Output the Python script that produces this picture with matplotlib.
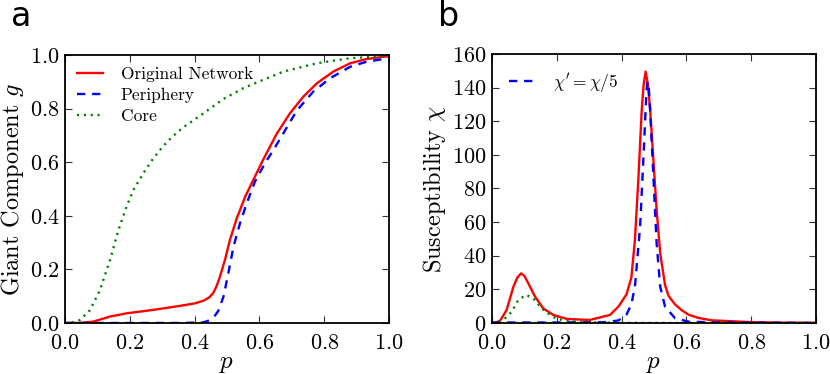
import numpy as np
import matplotlib
matplotlib.use('Agg')
import matplotlib.pyplot as plt

plt.rcParams['font.family'] = 'cmr10'
plt.rcParams['mathtext.fontset'] = 'cm'
plt.rcParams['axes.formatter.use_mathtext'] = True
plt.rcParams['axes.unicode_minus'] = False

# panel a: giant component g vs p
p_orig = [0.0, 0.046, 0.087, 0.139, 0.19, 0.273, 0.345, 0.4, 0.427, 0.445, 0.458, 0.468,
          0.478, 0.494, 0.509, 0.53, 0.556, 0.586, 0.612, 0.653, 0.694, 0.736, 0.777,
          0.828, 0.88, 0.931, 1.0]
g_orig = [0.0, 0.0, 0.005, 0.024, 0.036, 0.049, 0.062, 0.073, 0.083, 0.095, 0.113, 0.138,
          0.172, 0.237, 0.31, 0.39, 0.471, 0.546, 0.61, 0.705, 0.782, 0.845, 0.894,
          0.938, 0.969, 0.985, 0.996]
p_peri = [0.0, 0.2, 0.355, 0.425, 0.44, 0.453, 0.463, 0.473, 0.489, 0.504, 0.52, 0.54,
          0.561, 0.586, 0.617, 0.643, 0.674, 0.715, 0.766, 0.818, 0.88, 0.931, 1.0]
g_peri = [0.0, 0.0, 0.0, 0.002, 0.007, 0.017, 0.028, 0.045, 0.098, 0.185, 0.285, 0.372,
          0.447, 0.527, 0.596, 0.645, 0.708, 0.792, 0.863, 0.913, 0.956, 0.975, 0.988]
p_core = [0.0, 0.015, 0.046, 0.077, 0.108, 0.139, 0.165, 0.19, 0.211, 0.242, 0.273,
          0.303, 0.334, 0.365, 0.427, 0.489, 0.55, 0.597, 0.674, 0.777, 0.88, 1.0]
g_core = [0.0, 0.0, 0.011, 0.048, 0.123, 0.235, 0.347, 0.434, 0.496, 0.559, 0.615,
          0.66, 0.698, 0.73, 0.782, 0.836, 0.876, 0.9, 0.938, 0.969, 0.988, 0.996]

# panel b: susceptibility chi vs p
p_chi = [0.0, 0.012, 0.025, 0.045, 0.066, 0.078, 0.0895, 0.1, 0.112, 0.133, 0.158, 0.189,
         0.231, 0.302, 0.364, 0.39, 0.415, 0.43, 0.441, 0.452, 0.462, 0.468, 0.474,
         0.481, 0.488, 0.498, 0.508, 0.519, 0.534, 0.545, 0.565, 0.586, 0.606, 0.637,
         0.678, 0.8, 0.9, 1.0]
chi_orig = [0.0, 0.3, 1.4, 7.7, 21.6, 27.0, 29.5, 28.0, 23.6, 15.6, 8.7, 4.8,
            2.4, 1.8, 4.8, 9.7, 17.0, 27.0, 49.4, 87.0, 126.7, 142.0, 149.5,
            142.0, 126.7, 97.0, 67.2, 41.5, 22.5, 16.0, 11.0, 7.5, 5.0, 3.0,
            1.6, 0.5, 0.2, 0.1]
p_chip = [0.0, 0.2, 0.35, 0.39, 0.415, 0.43, 0.441, 0.457, 0.467, 0.474, 0.477, 0.48,
          0.484, 0.488, 0.498, 0.508, 0.519, 0.534, 0.565, 0.606, 0.7, 1.0]
chi_peri = [0.3, 0.3, 0.5, 1.5, 5.0, 11.0, 21.6, 57.3, 97.0, 126.7, 139.0, 143.5,
            139.0, 126.7, 87.0, 47.4, 21.6, 9.7, 2.8, 0.8, 0.3, 0.0]
p_chic = [0.0, 0.02, 0.035, 0.061, 0.081, 0.105, 0.127, 0.153, 0.179, 0.2, 0.24,
          0.32, 0.4, 0.5, 1.0]
chi_core = [0.0, 0.4, 1.8, 6.7, 13.7, 16.7, 14.7, 8.7, 4.8, 2.5, 1.0,
            0.3, 0.1, 0.0, 0.0]

fig = plt.figure(figsize=(8.3, 3.74), dpi=100)
ax1 = fig.add_axes([0.0783, 0.1364, 0.3904, 0.7166])
ax2 = fig.add_axes([0.5928, 0.1364, 0.3904, 0.7193])

lw = 1.7
dash = (3.5, 2.9)
dot = (0.9, 2.0)

ax1.plot(p_orig, g_orig, color='r', lw=lw, label='Original Network')
ax1.plot(p_peri, g_peri, color='b', lw=lw, ls='--', dashes=dash, label='Periphery')
ax1.plot(p_core, g_core, color='g', lw=lw, ls=':', dashes=dot, label='Core')
ax1.set_xlim(0, 1)
ax1.set_ylim(0, 1)
ax1.set_xlabel('$p$', fontsize=18, labelpad=0)
ax1.set_ylabel('Giant Component $g$', fontsize=17.5, labelpad=3)
ax1.legend(loc='upper left', frameon=False, fontsize=12.5, handlelength=1.5,
           handletextpad=1.0, labelspacing=0.32, borderaxespad=0.3)

ax2.plot(p_chi, chi_orig, color='r', lw=lw)
ax2.plot(p_chip, chi_peri, color='b', lw=lw, ls='--', dashes=dash,
         label="$\\chi' = \\chi/5$")
ax2.plot(p_chic, chi_core, color='g', lw=lw, ls=':', dashes=dot)
ax2.set_xlim(0, 1)
ax2.set_ylim(0, 160)
ax2.set_yticks(np.arange(0, 161, 20))
ax2.set_xlabel('$p$', fontsize=18, labelpad=0)
ax2.set_ylabel('Susceptibility $\\chi$', fontsize=17.5, labelpad=3)
ax2.legend(loc='upper left', frameon=False, fontsize=12.5, handlelength=1.5,
           handletextpad=1.0, borderaxespad=0.6)

for ax in (ax1, ax2):
    ax.set_xticks(np.arange(0, 1.01, 0.2))
    ax.tick_params(direction='in', top=True, right=True, length=5, width=0.8,
                   labelsize=16, color='#333333')
    ax.tick_params(axis='x', pad=7.5)
    ax.tick_params(axis='y', pad=4)
    for s in ax.spines.values():
        s.set_linewidth(1.3)

fig.text(0.013, 0.93, 'a', fontsize=24, family='DejaVu Sans')
fig.text(0.528, 0.93, 'b', fontsize=24, family='DejaVu Sans')

fig.savefig('out.png', dpi=100)
